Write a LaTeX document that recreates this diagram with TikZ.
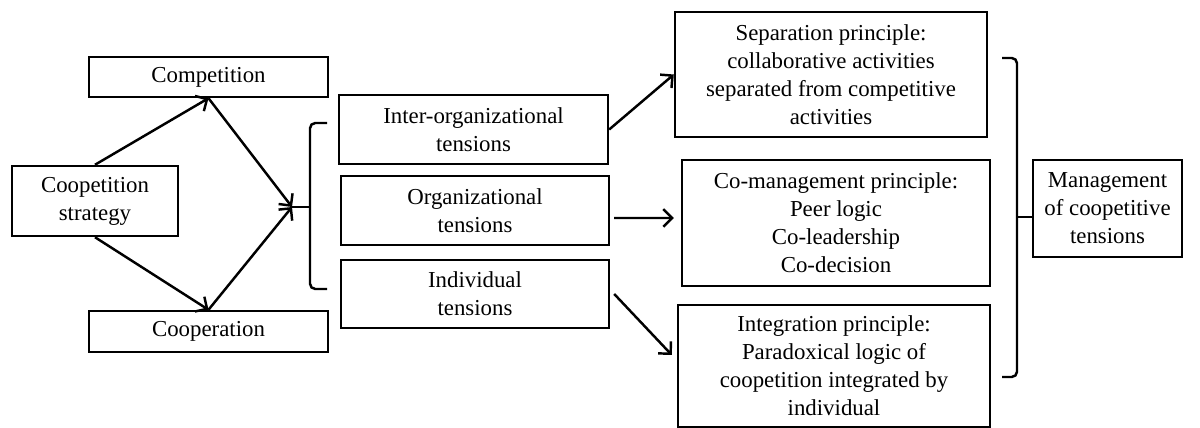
\documentclass[tikz,border=0pt]{standalone}
\usepackage{fontspec}
\setmainfont{Liberation Serif}
\usepackage{tikz}
\usetikzlibrary{arrows.meta}
\usetikzlibrary{positioning}

\begin{document}
\begin{tikzpicture}[
    x=0.02cm, y=-0.02cm,
    every node/.style={rectangle, draw, line width=1.4pt, align=center, inner sep=2pt,
      font=\fontsize{13}{16}\selectfont},
    link/.style={->, line width=1.4pt},
    bracket/.style={line width=1.4pt, rounded corners=3pt},
  ]
\tikzset{>={Straight Barb[length=5pt, width=10pt]}}
  \useasboundingbox (0,0) rectangle (1200,428);

  \node[minimum width=4.78cm, minimum height=0.8cm]  (comp)  at (208.5, 77)   {Competition};
  \node[minimum width=3.32cm, minimum height=1.4cm]  (strat) at (95, 201)     {Coopetition\\strategy};
  \node[minimum width=4.78cm, minimum height=0.82cm] (coop)  at (208.5, 331.5) {Cooperation};

  \node[minimum width=5.38cm, minimum height=1.38cm] (inter) at (473.5, 129.5) {Inter-organizational\\tensions};
  \node[minimum width=5.36cm, minimum height=1.38cm] (org)   at (475, 210.5)   {Organizational\\tensions};
  \node[minimum width=5.36cm, minimum height=1.36cm] (ind)   at (475, 294)     {Individual\\tensions};

  \node[minimum width=6.24cm, minimum height=2.5cm]  (sep)   at (831, 74.5) {Separation principle:\\collaborative activities\\separated from competitive\\activities};
  \node[minimum width=6.16cm, minimum height=2.52cm] (comg)  at (836, 223)  {Co-management principle:\\Peer logic\\Co-leadership\\Co-decision};
  \node[minimum width=6.24cm, minimum height=2.44cm] (integ) at (834, 366)  {Integration principle:\\Paradoxical logic of\\coopetition integrated by\\individual};

  \node[minimum width=2.98cm, minimum height=1.94cm] (mgmt)  at (1107.5, 208.5) {Management\\of coopetitive\\tensions};

  % brackets
  \coordinate (tipL) at (292, 207);
  \coordinate (tipR) at (1033, 217);
  \draw[bracket] (327, 123) -- (310, 123) -- (310, 289) -- (327, 289);
  \draw[line width=1.4pt] (tipL) -- (310, 207);
  \draw[bracket] (1002, 58) -- (1017, 58) -- (1017, 377) -- (1002, 377);
  \draw[line width=1.4pt] (1017, 217) -- (tipR);

  \draw[link] (strat.north) -- (comp.south);
  \draw[link] (strat.south) -- (coop.north);
  \draw[link] (comp.south) -- (tipL);
  \draw[link] (coop.north) -- (tipL);

  \draw[link] (inter.east) -- (sep.west);
  \draw[link] ([shift={(0.08cm,-0.15cm)}]org.east) -- ([xshift=-0.14cm, yshift=0.1cm]comg.west);
  \draw[link] ([xshift=0.08cm]ind.east) -- ([shift={(-0.1cm,0.22cm)}]integ.west);

  \end{tikzpicture}
\end{document}
